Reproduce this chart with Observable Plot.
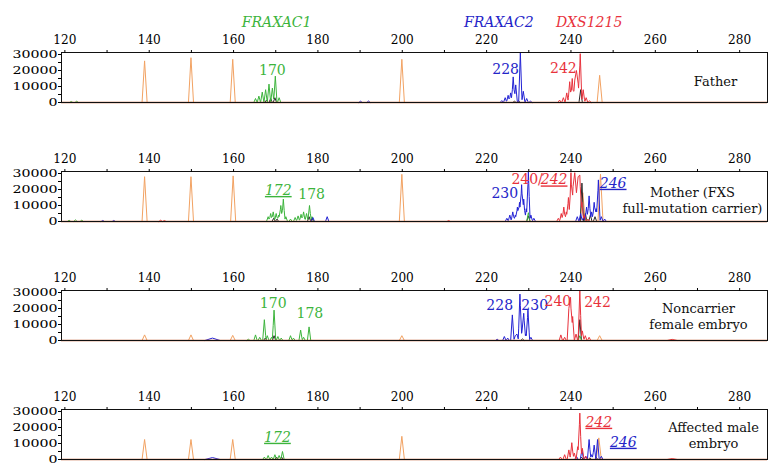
<!DOCTYPE html>
<html><head><meta charset="utf-8">
<script src="https://cdn.jsdelivr.net/npm/d3@7"></script>
<script src="https://cdn.jsdelivr.net/npm/@observablehq/plot@0.6"></script>
<style>
body{margin:0;background:#fff;width:777px;height:474px;overflow:hidden}
#chart svg{display:block}
#chart svg, #chart svg text{font-family:"DejaVu Serif", "Liberation Serif", serif !important}
</style></head><body><div id="chart"></div>
<script>
// ---------- data ----------
const xTicks = [120,130,140,150,160,170,180,190,200,210,220,230,240,250,260,270,280];
const yTicks = [0,5000,10000,15000,20000,25000,30000];
const markerNames = ["FRAXAC1","FRAXAC2","DXS1215"];
const markerBp = [170.2, 222.9, 244.3];
const markerDyes = ["green","blue","red"];
const sampleNames = ["Father","Mother (FXS\nfull-mutation carrier)","Noncarrier\nfemale embryo","Affected male\nembryo"];

// peaks: [size (bp), height (rfu), optional half-width]
const fatherOrange = [[138.9,26000],[149.9,28000],[159.8,27000],[199.9,27000],[246.8,17000]];
const fatherGreen = [[121.5,600],[122.8,800],[165.2,2500],[166,4000],[166.8,6500],[167.6,8000],[168.4,11500],[169.2,9000],[169.9,16500],[170.8,3000]];
const fatherBlue = [[190.1,800],[192.0,900],[223.6,1200],[224.4,3000],[225.1,4500],[225.7,6000],[226.3,16000],[226.9,11000],[228.0,31000],[228.7,7000],[229.5,2500],[230.4,800]];
const fatherRed = [[237.3,1500],[238.2,3000],[239.0,6000],[239.7,13000],[240.3,15000],[240.9,14000],[241.3,20000],[241.7,12000],[242.2,30500],[242.9,8000],[243.6,3000],[244.4,1000]];
const fatherBlack = [[167.8,1500],[168.8,2500],[169.8,3000],[226.6,800],[227.6,1000],[242.3,8000]];

const motherOrange = [[138.9,28000],[149.9,28000],[159.9,28500],[199.9,29500],[242.8,18000],[247.0,29500]];
const motherGreen = [[121,800],[122.5,1000],[124,800],[168.2,3000],[168.8,5000],[169.4,6000],[170.1,5000],[170.7,4000],[171.2,10000],[171.8,14000],[172.4,3000],[173.5,1500],[174.6,2500],[175.3,3500],[176,4500],[176.6,6000],[177.3,5000],[178,10000],[178.6,3000],[229.9,5500],[243.5,2000]];
const motherBlue = [[129,600],[131.6,600],[178.8,2500],[182.2,3000],[224.8,2000],[225.5,4000],[226.2,6000],[226.8,4000],[227.3,9000],[227.8,12000],[228.3,23000],[228.8,14000],[229.4,8000],[229.9,31000],[230.5,4000],[231.2,2000],[241.5,3000],[242.3,5000],[243,3000],[243.7,9000],[244.3,16000],[244.9,6000],[245.5,12000],[246,8000],[246.5,26000],[247.2,3000],[248,1500]];
const motherRed = [[142.7,800],[143.6,600],[211,600],[237,2000],[237.7,5000],[238.3,9000],[238.9,6000],[239.4,15000],[240,30500],[240.5,22000],[240.9,30500],[241.3,18000],[241.7,28000],[242.1,29000],[242.6,12000],[243.2,4000],[244,1500]];
const motherBlack = [[169.5,2000],[170.3,1500],[177.9,3000],[178.6,2000],[229.9,3500],[242.6,24000],[243.4,5000],[244.6,4000],[245.7,3000]];

const noncarrierOrange = [[138.9,3500],[149.9,3500],[159.8,3200],[199.9,3000],[246.8,3000]];
const noncarrierGreen = [[163.5,800],[165.2,3500],[166.2,2000],[167.3,13000],[168,3000],[169,2000],[169.6,19000],[170.5,2500],[171.3,1500],[173.5,3000],[174.2,1500],[175.9,6500],[176.6,2000],[177.9,8500],[242.1,3000]];
const noncarrierBlue = [[155,1500,1.8],[222.5,800],[224.2,2500],[225,1500],[226.1,16000],[226.8,3000],[227.2,4000],[227.9,29000],[228.4,6000],[228.8,17000],[229.3,4000],[229.8,19000],[230.5,2000]];
const noncarrierRed = [[237.6,3500],[238.5,2000],[239.5,20000],[239.9,27000],[240.4,15000],[241.2,4000],[242.1,31000],[242.7,6000],[243.4,3000],[244.3,2000],[264,700,1.2]];
const noncarrierBlack = [[167.5,1500],[169.6,3000],[228.5,1000],[242.1,13000]];

const affectedOrange = [[138.9,12500],[149.9,12500],[159.8,12500],[199.9,14500],[246.6,13500]];
const affectedGreen = [[167.3,1500],[168.2,2500],[169,1500],[169.8,3000],[170.8,2500],[171.6,5000]];
const affectedBlue = [[155,1200,1.8],[241.3,2000],[242.6,6000],[243.5,2000],[244.3,12500],[244.9,3000],[245.5,9000],[246.3,12500],[247.2,2000]];
const affectedRed = [[237.5,1500],[238.5,3000],[239.5,6000],[240.2,10500],[240.8,4000],[241.6,8000],[242.1,29000],[242.7,7000],[243.5,2000],[264,600,1.2]];
const affectedBlack = [[170.2,1500],[171.4,1500],[242.5,1500],[244.5,1000],[246,1200]];

// allele calls: label, size (bp), height (rfu), dye, linked to mutation
const fatherAlleles = [
  {label:"170", bp:169.2, rfu:20000, dye:"green", linked:false},
  {label:"228", bp:224.5, rfu:20900, dye:"blue", linked:false},
  {label:"242", bp:238.2, rfu:21250, dye:"red", linked:false}];
const motherAlleles = [
  {label:"172", bp:170.6, rfu:19400, dye:"green", linked:true},
  {label:"178", bp:178.5, rfu:16900, dye:"green", linked:false},
  {label:"230", bp:224.3, rfu:17500, dye:"blue", linked:false},
  {label:"240/", bp:229.6, rfu:26000, dye:"red", linked:false},
  {label:"242", bp:236.0, rfu:26000, dye:"red", linked:true},
  {label:"246", bp:250.0, rfu:23900, dye:"blue", linked:true}];
const noncarrierAlleles = [
  {label:"170", bp:169.4, rfu:23300, dye:"green", linked:false},
  {label:"178", bp:178.1, rfu:16700, dye:"green", linked:false},
  {label:"228", bp:223.1, rfu:21900, dye:"blue", linked:false},
  {label:"230", bp:231.4, rfu:21900, dye:"blue", linked:false},
  {label:"240", bp:236.9, rfu:24600, dye:"red", linked:false},
  {label:"242", bp:246.3, rfu:23900, dye:"red", linked:false}];
const affectedAlleles = [
  {label:"172", bp:170.4, rfu:13900, dye:"green", linked:true},
  {label:"242", bp:246.6, rfu:23300, dye:"red", linked:true},
  {label:"246", bp:252.4, rfu:10800, dye:"blue", linked:true}];

// ---------- styling / layout ----------
const FONT = "'DejaVu Serif', 'Liberation Serif', serif";
const traceColor = {orange:"#f2a262", black:"#2a2a2a", green:"#3cb43c", blue:"#2222d4", red:"#e8323c"};
const textColor = {green:"#3cb43c", blue:"#2424c8", red:"#e8323c"};
const panels = [
  {traces:{orange:fatherOrange, black:fatherBlack, green:fatherGreen, blue:fatherBlue, red:fatherRed}, alleles:fatherAlleles, labelDx:-52, labelDy:3},
  {traces:{orange:motherOrange, black:motherBlack, green:motherGreen, blue:motherBlue, red:motherRed}, alleles:motherAlleles, labelDx:-75, labelDy:3},
  {traces:{orange:noncarrierOrange, black:noncarrierBlack, green:noncarrierGreen, blue:noncarrierBlue, red:noncarrierRed}, alleles:noncarrierAlleles, labelDx:-69, labelDy:0},
  {traces:{orange:affectedOrange, black:affectedBlack, green:affectedGreen, blue:affectedBlue, red:affectedRed}, alleles:affectedAlleles, labelDx:-54, labelDy:0}
];
const xDomain = [119.2, 286.6];
const yDomain = [0, 31250];

// peak list -> polyline vertices (upper envelope of triangular peaks)
function trace(peaks, w0) {
  const P = peaks.map(([x, h, w]) => ({x, h, w: w ?? w0}));
  const xs = Array.from(new Set(P.flatMap(p => [p.x - p.w, p.x, p.x + p.w]))).sort(d3.ascending);
  return xs.map(v => ({bp: v, rfu: d3.max(P, p => Math.max(0, p.h * (1 - Math.abs(v - p.x) / p.w)))}));
}

const root = document.getElementById("chart");
panels.forEach((p, i) => {
  const marks = [];
  for (const dye of ["orange","black","green","blue","red"]) {
    marks.push(Plot.line(trace(p.traces[dye], dye === "orange" ? 0.6 : 0.4), {x:"bp", y:"rfu", stroke: traceColor[dye], strokeWidth: 1}));
  }
  marks.push(Plot.ruleY([0], {stroke:"#c0582c", strokeWidth:1.6}));
  marks.push(Plot.frame({stroke:"#111", strokeWidth:1}));
  marks.push(Plot.axisX({anchor:"top", ticks:xTicks, tickFormat: d => d % 20 === 0 ? String(d) : "", tickSize:3, tickPadding:6, label:null, fontSize:12, fontFamily:FONT}));
  marks.push(Plot.axisY({ticks:yTicks, tickFormat: d => d % 10000 === 0 ? String(d) : "", tickSize:3, tickPadding:1, label:null, fontSize:10.5, fontFamily:FONT}));
  const plain = p.alleles.filter(d => !d.linked), linked = p.alleles.filter(d => d.linked);
  marks.push(Plot.text(plain, {x:"bp", y:"rfu", text:"label", fill: d => textColor[d.dye], fontSize:14, fontFamily:FONT}));
  marks.push(Plot.text(linked, {x:"bp", y:"rfu", text:"label", fill: d => textColor[d.dye], fontSize:14, fontFamily:FONT, fontStyle:"italic", ariaLabel: () => "linked"}));
  marks.push(Plot.text([sampleNames[i]], {frameAnchor:"right", dx:p.labelDx, dy:p.labelDy, textAnchor:"middle", lineHeight:1.28, fontSize:13, fontFamily:FONT, fill:"#111"}));
  if (i === 0) {
    const hdr = markerNames.map((m, k) => ({name:m, bp:markerBp[k], dye:markerDyes[k]}));
    marks.push(Plot.text(hdr, {x:"bp", frameAnchor:"top", dy:-35, text:"name", fill: d => textColor[d.dye], fontSize:14, fontFamily:FONT, fontStyle:"italic"}));
  }
  const svg = Plot.plot({
    width:777, height:119, marginTop:52, marginBottom:17, marginLeft:61, marginRight:10,
    x:{domain:xDomain, axis:null}, y:{domain:yDomain, axis:null},
    style:{fontFamily:FONT, color:"#000", background:"transparent", overflow:"visible"},
    marks
  });
  svg.querySelectorAll('text[aria-label="linked"]').forEach(t => t.style.textDecoration = "underline");
  svg.querySelectorAll('[aria-label="y-axis tick label"] text').forEach(t => {
    const s = t.textContent; if (s) { t.setAttribute("textLength", s.length * 9); t.setAttribute("lengthAdjust", "spacingAndGlyphs"); }
  });
  svg.querySelectorAll('[aria-label="x-axis tick label"] text').forEach(t => {
    const s = t.textContent; if (s) { t.setAttribute("textLength", s.length * 7.7); t.setAttribute("lengthAdjust", "spacingAndGlyphs"); }
  });
  root.appendChild(svg);
});
</script></body></html>
